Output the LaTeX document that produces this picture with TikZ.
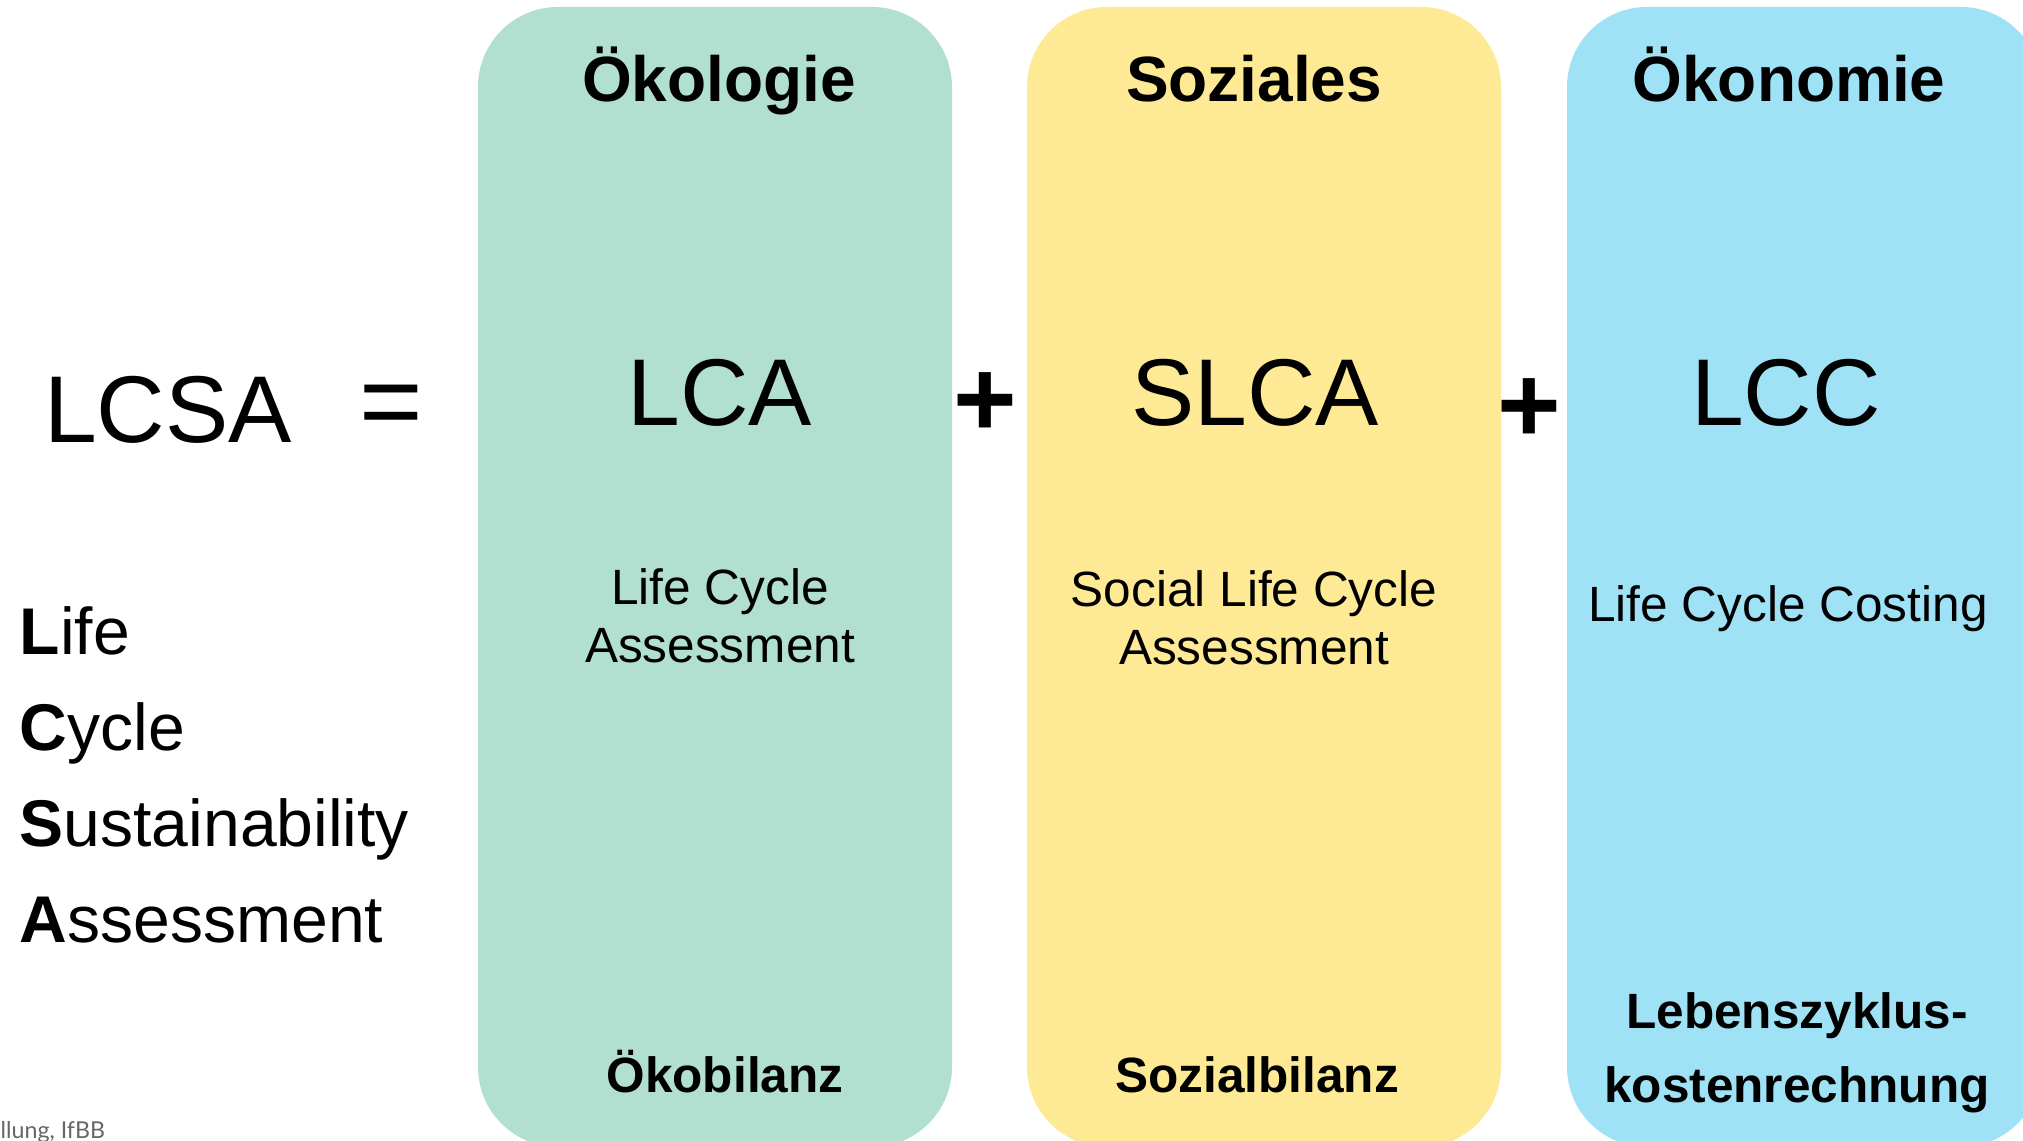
\documentclass[tikz,border=0pt]{standalone}
\usepackage{fontspec}
\setmainfont{Liberation Sans}
\newfontfamily\notefont{Lato}
\usetikzlibrary{positioning}

\definecolor{oekogreen}{RGB}{177,224,208}
\definecolor{sozyellow}{RGB}{254,234,148}
\definecolor{oekonblue}{RGB}{160,226,245}

\tikzset{
    pillar/.style={fill=#1, draw=none, rounded corners=0.8cm},
    bigterm/.style={inner sep=0pt, anchor=base, font=\fontsize{27}{32}\selectfont},
    operator/.style={inner sep=0pt, anchor=center, font=\fontsize{31}{36}\selectfont},
    header/.style={inner sep=0pt, anchor=base, font=\bfseries\fontsize{18.2}{22}\selectfont},
    subline/.style={inner sep=0pt, align=center, font=\fontsize{14.1}{16.5}\selectfont},
    footline/.style={inner sep=0pt, align=center, font=\bfseries\fontsize{14.1}{21}\selectfont},
    wordlist/.style={inner sep=0pt, anchor=base west, font=\fontsize{18.8}{22}\selectfont}
}

\begin{document}
\begin{tikzpicture}
    \clip (0,0) rectangle (20.23,11.41);
    \fill[white] (0,0) rectangle (20.23,11.41);

    % the three pillars
    \fill[pillar=oekogreen] (4.78,-0.06) rectangle (9.52,11.34);
    \fill[pillar=sozyellow] (10.27,-0.06) rectangle (15.01,11.34);
    \fill[pillar=oekonblue] (15.67,-0.06) rectangle (20.41,11.34);

    % headings
    \node[header] (oekologie) at (7.19,10.39) {Ökologie};
    \node[header] (soziales) at (12.54,10.39) {Soziales};
    \node[header] (oekonomie) at (17.89,10.39) {Ökonomie};

    % the equation
    \node[bigterm] (lcsa) at (1.68,6.98) {LCSA};
    \node[operator] (eq) at (3.91,7.29) {=};
    \node[bigterm] (lca) at (7.20,7.15) {LCA};
    \node[operator, font=\bfseries\fontsize{31}{36}\selectfont] (plus1) at (9.85,7.36) {+};
    \node[bigterm] (slca) at (12.55,7.15) {SLCA};
    \node[operator, font=\bfseries\fontsize{31}{36}\selectfont] (plus2) at (15.29,7.30) {+};
    \node[bigterm] (lcc) at (17.86,7.15) {LCC};

    % long names
    \node[subline] (lcaname) at (7.20,5.25) {Life Cycle\\Assessment};
    \node[subline] (slcaname) at (12.54,5.23) {Social Life Cycle\\Assessment};
    \node[subline] (lccname) at (17.88,5.32) {Life Cycle Costing};

    % german terms
    \node[footline, anchor=base] (oekobilanz) at (7.25,0.48) {Ökobilanz};
    \node[footline, anchor=base] (sozialbilanz) at (12.57,0.48) {Sozialbilanz};
    \node[footline] (lebenszyklus) at (17.97,0.88) {Lebenszyklus-\\kostenrechnung};

    % spelled out acronym
    \foreach \first/\rest [count=\i] in {L/ife, C/ycle, S/ustainability, A/ssessment}
        \node[wordlist] (word\i) at (0.19,{4.86-0.96*(\i-1)}) {\textbf{\first}\rest};

    \node[inner sep=0pt, anchor=base west, text=black!60, font=\notefont\fontsize{6.6}{8}\selectfont] (source) at (0,0.02) {llung, IfBB};
\end{tikzpicture}
\end{document}
